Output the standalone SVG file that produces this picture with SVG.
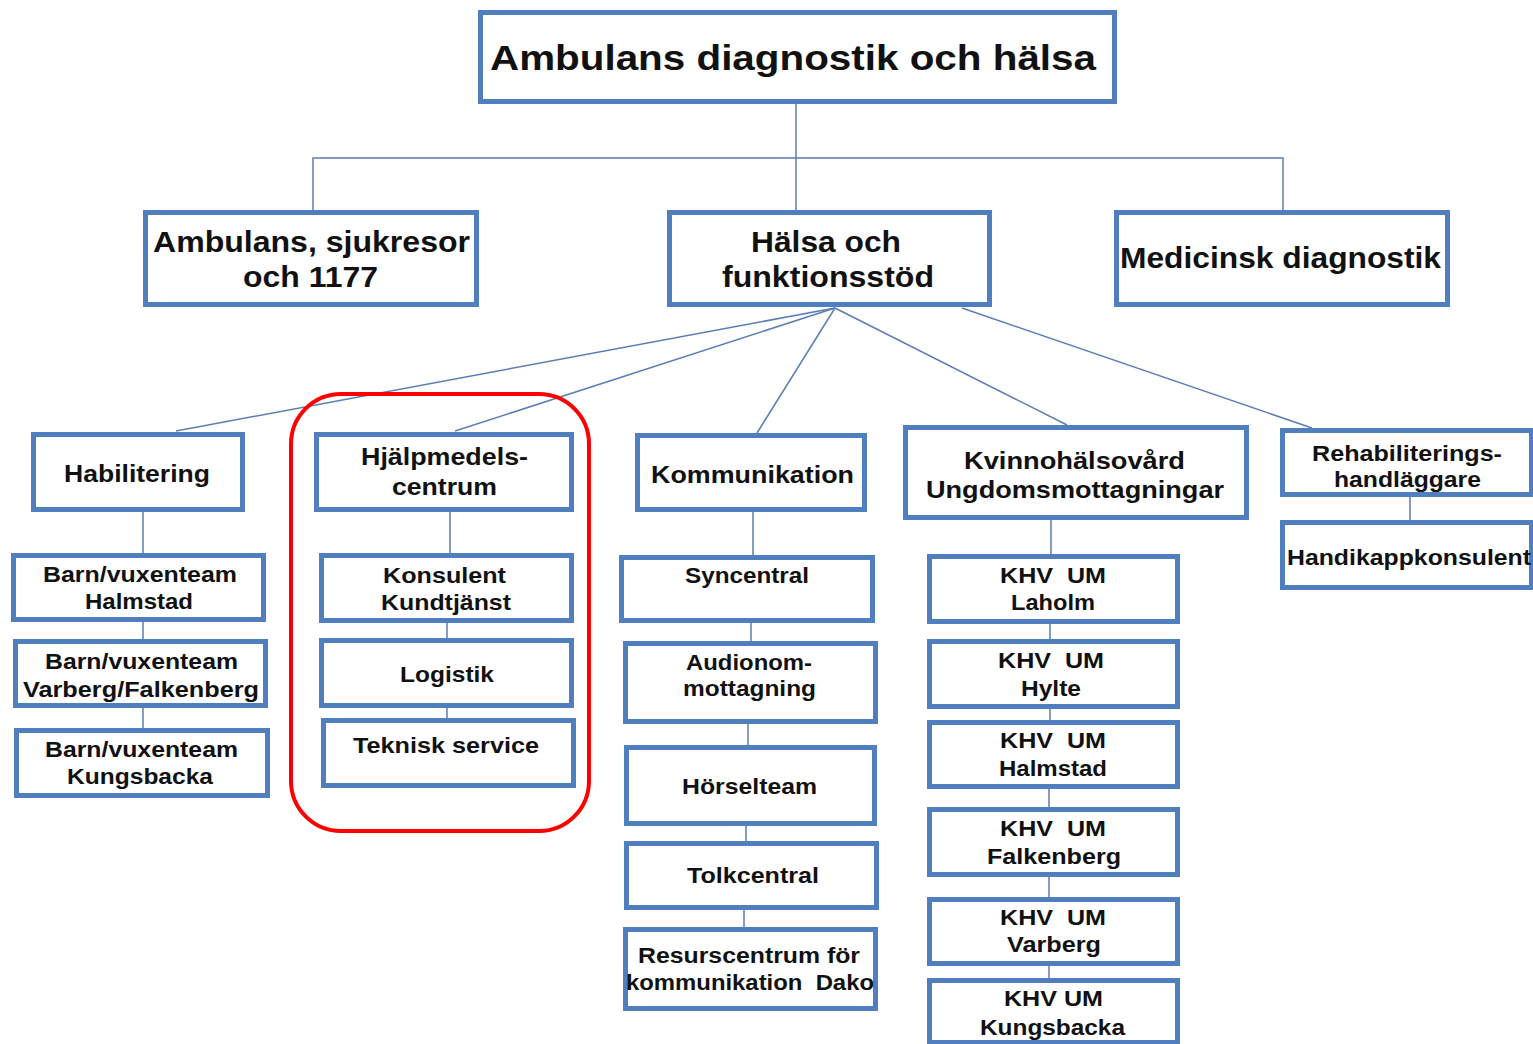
<svg xmlns="http://www.w3.org/2000/svg" width="1533" height="1044" viewBox="0 0 1533 1044">
<style>
.box{fill:#ffffff;stroke:#4F7FBE;stroke-width:5}
.ln{fill:none;stroke:#5B7DB5;stroke-width:1.5}
text{font-family:"Liberation Sans",Arial,sans-serif;font-weight:bold;fill:#111111;text-anchor:middle}
.t1{font-size:35px}
.t2{font-size:29px}
.t3{font-size:24px}
.t4{font-size:22px}
.hl{fill:none;stroke:#FF0000;stroke-width:4}
</style>
<rect width="1533" height="1044" fill="#ffffff"/>
<g id="connectors">
<line class="ln" x1="796" y1="104" x2="796" y2="210"/>
<polyline class="ln" points="313,210 313,158 1283,158 1283,210"/>
<line class="ln" x1="835" y1="308" x2="176" y2="431"/>
<line class="ln" x1="835" y1="308" x2="455" y2="431"/>
<line class="ln" x1="835" y1="308" x2="757" y2="433"/>
<line class="ln" x1="835" y1="308" x2="1067" y2="425"/>
<line class="ln" x1="962" y1="308" x2="1312" y2="428"/>
<line class="ln" x1="143" y1="512" x2="143" y2="553"/>
<line class="ln" x1="143" y1="622" x2="143" y2="639"/>
<line class="ln" x1="143" y1="708" x2="143" y2="728"/>
<line class="ln" x1="450" y1="512" x2="450" y2="553"/>
<line class="ln" x1="447" y1="623" x2="447" y2="638"/>
<line class="ln" x1="447" y1="708" x2="447" y2="718"/>
<line class="ln" x1="753" y1="512" x2="753" y2="555"/>
<line class="ln" x1="751" y1="623" x2="751" y2="641"/>
<line class="ln" x1="748" y1="724" x2="748" y2="745"/>
<line class="ln" x1="746" y1="826" x2="746" y2="841"/>
<line class="ln" x1="744" y1="910" x2="744" y2="927"/>
<line class="ln" x1="1051" y1="520" x2="1051" y2="554"/>
<line class="ln" x1="1050" y1="624" x2="1050" y2="639"/>
<line class="ln" x1="1050" y1="709" x2="1050" y2="720"/>
<line class="ln" x1="1049" y1="789" x2="1049" y2="807"/>
<line class="ln" x1="1049" y1="877" x2="1049" y2="897"/>
<line class="ln" x1="1049" y1="966" x2="1049" y2="978"/>
<line class="ln" x1="1410" y1="497" x2="1410" y2="520"/>
</g>
<g id="n-top"><rect class="box" x="480.5" y="12.5" width="634" height="89"/><text class="t1" x="793" y="70" textLength="606" lengthAdjust="spacingAndGlyphs">Ambulans diagnostik och hälsa</text></g>
<g id="n-ambulans"><rect class="box" x="145.5" y="212.5" width="331" height="92"/><text class="t2" x="311.5" y="251.5" textLength="317" lengthAdjust="spacingAndGlyphs">Ambulans, sjukresor</text><text class="t2" x="310.5" y="287" textLength="135" lengthAdjust="spacingAndGlyphs">och 1177</text></g>
<g id="n-halsa"><rect class="box" x="669.5" y="212.5" width="320" height="92"/><text class="t2" x="826" y="251.5" textLength="150" lengthAdjust="spacingAndGlyphs">Hälsa och</text><text class="t2" x="828" y="287" textLength="212" lengthAdjust="spacingAndGlyphs">funktionsstöd</text></g>
<g id="n-medicinsk"><rect class="box" x="1116.5" y="212.5" width="331" height="92"/><text class="t2" x="1280.5" y="268" textLength="321" lengthAdjust="spacingAndGlyphs">Medicinsk diagnostik</text></g>
<g id="n-habilitering"><rect class="box" x="33.5" y="434.5" width="209" height="75"/><text class="t3" x="137" y="481.5" textLength="146" lengthAdjust="spacingAndGlyphs">Habilitering</text></g>
<g id="n-hjalpmedel"><rect class="box" x="316.5" y="434.5" width="255" height="75"/><text class="t3" x="444.5" y="465" textLength="167" lengthAdjust="spacingAndGlyphs">Hjälpmedels-</text><text class="t3" x="444.5" y="495" textLength="105" lengthAdjust="spacingAndGlyphs">centrum</text></g>
<g id="n-kommunikation"><rect class="box" x="637.5" y="435.5" width="227" height="74"/><text class="t3" x="752.5" y="483" textLength="203" lengthAdjust="spacingAndGlyphs">Kommunikation</text></g>
<g id="n-kvinno"><rect class="box" x="905.5" y="427.5" width="341" height="90"/><text class="t3" x="1074.5" y="469" textLength="221" lengthAdjust="spacingAndGlyphs">Kvinnohälsovård</text><text class="t3" x="1075" y="498" textLength="298" lengthAdjust="spacingAndGlyphs">Ungdomsmottagningar</text></g>
<g id="n-rehab"><rect class="box" x="1282.5" y="430.5" width="249" height="64"/><text class="t4" x="1407" y="461" textLength="190" lengthAdjust="spacingAndGlyphs">Rehabiliterings-</text><text class="t4" x="1407.5" y="487" textLength="147" lengthAdjust="spacingAndGlyphs">handläggare</text></g>
<g id="n-handikapp"><rect class="box" x="1282.5" y="522.5" width="249" height="65"/><text class="t4" x="1409" y="565" textLength="244" lengthAdjust="spacingAndGlyphs">Handikappkonsulent</text></g>
<g id="n-barn-halmstad"><rect class="box" x="13.5" y="555.5" width="250" height="64"/><text class="t4" x="140" y="582" textLength="194" lengthAdjust="spacingAndGlyphs">Barn/vuxenteam</text><text class="t4" x="139" y="609" textLength="108" lengthAdjust="spacingAndGlyphs">Halmstad</text></g>
<g id="n-barn-varberg"><rect class="box" x="15.5" y="641.5" width="250" height="64"/><text class="t4" x="141.5" y="669" textLength="193" lengthAdjust="spacingAndGlyphs">Barn/vuxenteam</text><text class="t4" x="141" y="696.5" textLength="236" lengthAdjust="spacingAndGlyphs">Varberg/Falkenberg</text></g>
<g id="n-barn-kungsbacka"><rect class="box" x="16.5" y="730.5" width="251" height="65"/><text class="t4" x="141.5" y="757" textLength="193" lengthAdjust="spacingAndGlyphs">Barn/vuxenteam</text><text class="t4" x="140" y="783.5" textLength="146" lengthAdjust="spacingAndGlyphs">Kungsbacka</text></g>
<g id="n-konsulent"><rect class="box" x="321.5" y="555.5" width="250" height="65"/><text class="t4" x="444.5" y="582.5" textLength="123" lengthAdjust="spacingAndGlyphs">Konsulent</text><text class="t4" x="446" y="610" textLength="130" lengthAdjust="spacingAndGlyphs">Kundtjänst</text></g>
<g id="n-logistik"><rect class="box" x="321.5" y="640.5" width="250" height="65"/><text class="t4" x="447" y="681.5" textLength="94" lengthAdjust="spacingAndGlyphs">Logistik</text></g>
<g id="n-teknisk"><rect class="box" x="323.5" y="720.5" width="250" height="65"/><text class="t4" x="446" y="753" textLength="186" lengthAdjust="spacingAndGlyphs">Teknisk service</text></g>
<g id="n-syncentral"><rect class="box" x="621.5" y="557.5" width="251" height="63"/><text class="t4" x="747" y="582.5" textLength="124" lengthAdjust="spacingAndGlyphs">Syncentral</text></g>
<g id="n-audionom"><rect class="box" x="625.5" y="643.5" width="250" height="78"/><text class="t4" x="749" y="669.5" textLength="126" lengthAdjust="spacingAndGlyphs">Audionom-</text><text class="t4" x="749.5" y="696" textLength="133" lengthAdjust="spacingAndGlyphs">mottagning</text></g>
<g id="n-horsel"><rect class="box" x="626.5" y="747.5" width="248" height="76"/><text class="t4" x="749.5" y="794" textLength="135" lengthAdjust="spacingAndGlyphs">Hörselteam</text></g>
<g id="n-tolk"><rect class="box" x="626.5" y="843.5" width="250" height="64"/><text class="t4" x="753" y="882.5" textLength="132" lengthAdjust="spacingAndGlyphs">Tolkcentral</text></g>
<g id="n-resurs"><rect class="box" x="625.5" y="929.5" width="250" height="79"/><text class="t4" x="749" y="962.5" textLength="222" lengthAdjust="spacingAndGlyphs">Resurscentrum för</text><text class="t4" x="750" y="990" textLength="248" lengthAdjust="spacingAndGlyphs" xml:space="preserve">kommunikation  Dako</text></g>
<g id="n-khv-laholm"><rect class="box" x="929.5" y="556.5" width="248" height="65"/><text class="t4" x="1053" y="582.5" textLength="106" lengthAdjust="spacingAndGlyphs" xml:space="preserve">KHV  UM</text><text class="t4" x="1053" y="610" textLength="84" lengthAdjust="spacingAndGlyphs">Laholm</text></g>
<g id="n-khv-hylte"><rect class="box" x="929.5" y="641.5" width="248" height="65"/><text class="t4" x="1051" y="667.5" textLength="106" lengthAdjust="spacingAndGlyphs" xml:space="preserve">KHV  UM</text><text class="t4" x="1051" y="695.5" textLength="60" lengthAdjust="spacingAndGlyphs">Hylte</text></g>
<g id="n-khv-halmstad"><rect class="box" x="929.5" y="722.5" width="248" height="64"/><text class="t4" x="1053" y="748" textLength="106" lengthAdjust="spacingAndGlyphs" xml:space="preserve">KHV  UM</text><text class="t4" x="1053" y="776" textLength="108" lengthAdjust="spacingAndGlyphs">Halmstad</text></g>
<g id="n-khv-falkenberg"><rect class="box" x="929.5" y="809.5" width="248" height="65"/><text class="t4" x="1053" y="836" textLength="106" lengthAdjust="spacingAndGlyphs" xml:space="preserve">KHV  UM</text><text class="t4" x="1054" y="864" textLength="134" lengthAdjust="spacingAndGlyphs">Falkenberg</text></g>
<g id="n-khv-varberg"><rect class="box" x="929.5" y="899.5" width="248" height="64"/><text class="t4" x="1053" y="924.5" textLength="106" lengthAdjust="spacingAndGlyphs" xml:space="preserve">KHV  UM</text><text class="t4" x="1054" y="952" textLength="94" lengthAdjust="spacingAndGlyphs">Varberg</text></g>
<g id="n-khv-kungsbacka"><rect class="box" x="929.5" y="980.5" width="248" height="62"/><text class="t4" x="1053.5" y="1006" textLength="99" lengthAdjust="spacingAndGlyphs">KHV UM</text><text class="t4" x="1052.5" y="1034.5" textLength="145" lengthAdjust="spacingAndGlyphs">Kungsbacka</text></g>
<g id="highlight"><rect class="hl" x="291" y="394" width="298" height="437" rx="50" ry="50"/></g>
</svg>
